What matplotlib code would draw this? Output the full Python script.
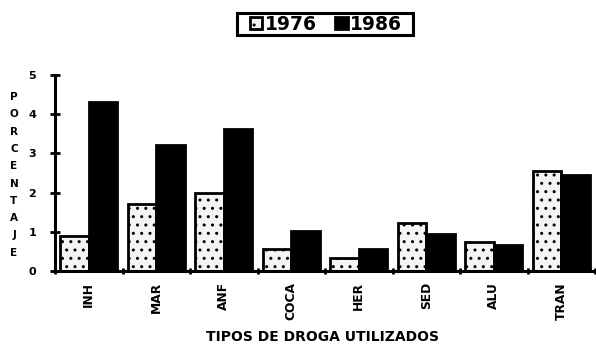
import matplotlib
matplotlib.use("Agg")
import matplotlib.pyplot as plt
from matplotlib.patches import Rectangle
import numpy as np

categories = ["INH", "MAR", "ANF", "COCA", "HER", "SED", "ALU", "TRAN"]
v1976 = [0.9, 1.7, 2.0, 0.55, 0.32, 1.22, 0.73, 2.54]
v1986 = [4.32, 3.22, 3.63, 1.03, 0.56, 0.95, 0.66, 2.46]
series_labels = ["1976", "1986"]
yticks = [0, 1, 2, 3, 4, 5]
ylabel_text = "PORCENTAJE"
xlabel_text = "TIPOS DE DROGA UTILIZADOS"

plt.rcParams['font.family'] = ['DejaVu Sans']
plt.rcParams['hatch.color'] = '#666666'
plt.rcParams['hatch.linewidth'] = 1.0

fig = plt.figure(figsize=(5.96, 3.44), dpi=100)
ax = fig.add_axes([55/596, 1 - 271/344, 540/596, 196/344])

x = np.arange(len(categories))
w = 0.42
b1 = ax.bar(x - w/2, v1976, w, facecolor='#f4f4f4', edgecolor='black',
            linewidth=2, hatch='..', label=series_labels[0])
b2 = ax.bar(x + w/2, v1986, w, facecolor='black', edgecolor='black',
            linewidth=2, label=series_labels[1])

ax.set_xlim(-0.5, len(categories) - 0.5)
ax.set_ylim(0, 5)
ax.set_yticks(yticks)
ax.set_yticklabels([str(t) for t in yticks], fontweight='bold', fontsize=8)
ax.set_xticks(x)
ax.set_xticklabels(categories, rotation=90, fontweight='bold', fontsize=8.8)
ax.tick_params(axis='x', which='major', length=0, pad=8)
ax.set_xticks(np.arange(len(categories) + 1) - 0.5, minor=True)
ax.tick_params(axis='x', which='minor', direction='inout', length=5, width=2)
ax.tick_params(axis='y', direction='inout', length=7, width=2, pad=10)

for s in ['top', 'right']:
    ax.spines[s].set_visible(False)
for s in ['left', 'bottom']:
    ax.spines[s].set_linewidth(2.2)

fig.text(322/596, 1 - 337/344, xlabel_text, ha='center', va='center',
         fontweight='bold', fontsize=10)

# vertical stacked y label
top_y = 1 - 97/344
step = 17.3/344
for i, ch in enumerate(ylabel_text):
    fig.text(14/596, top_y - i*step, ch, ha='center', va='center',
             fontweight='bold', fontsize=7.5)

leg = fig.legend(handles=[b1, b2], labels=series_labels, loc='center',
                 bbox_to_anchor=(326/596, 1 - 24/344), ncol=2,
                 frameon=False, handlelength=0.65, handleheight=0.65,
                 handletextpad=0.15, columnspacing=1.0,
                 borderpad=0, borderaxespad=0,
                 prop={'weight': 'bold', 'size': 13.5})
fig.patches.append(Rectangle((237/596, 1 - 35/344), 176/596, 22/344,
                             transform=fig.transFigure, fill=False,
                             edgecolor='black', linewidth=2.2))

fig.savefig("out.png", dpi=100)
